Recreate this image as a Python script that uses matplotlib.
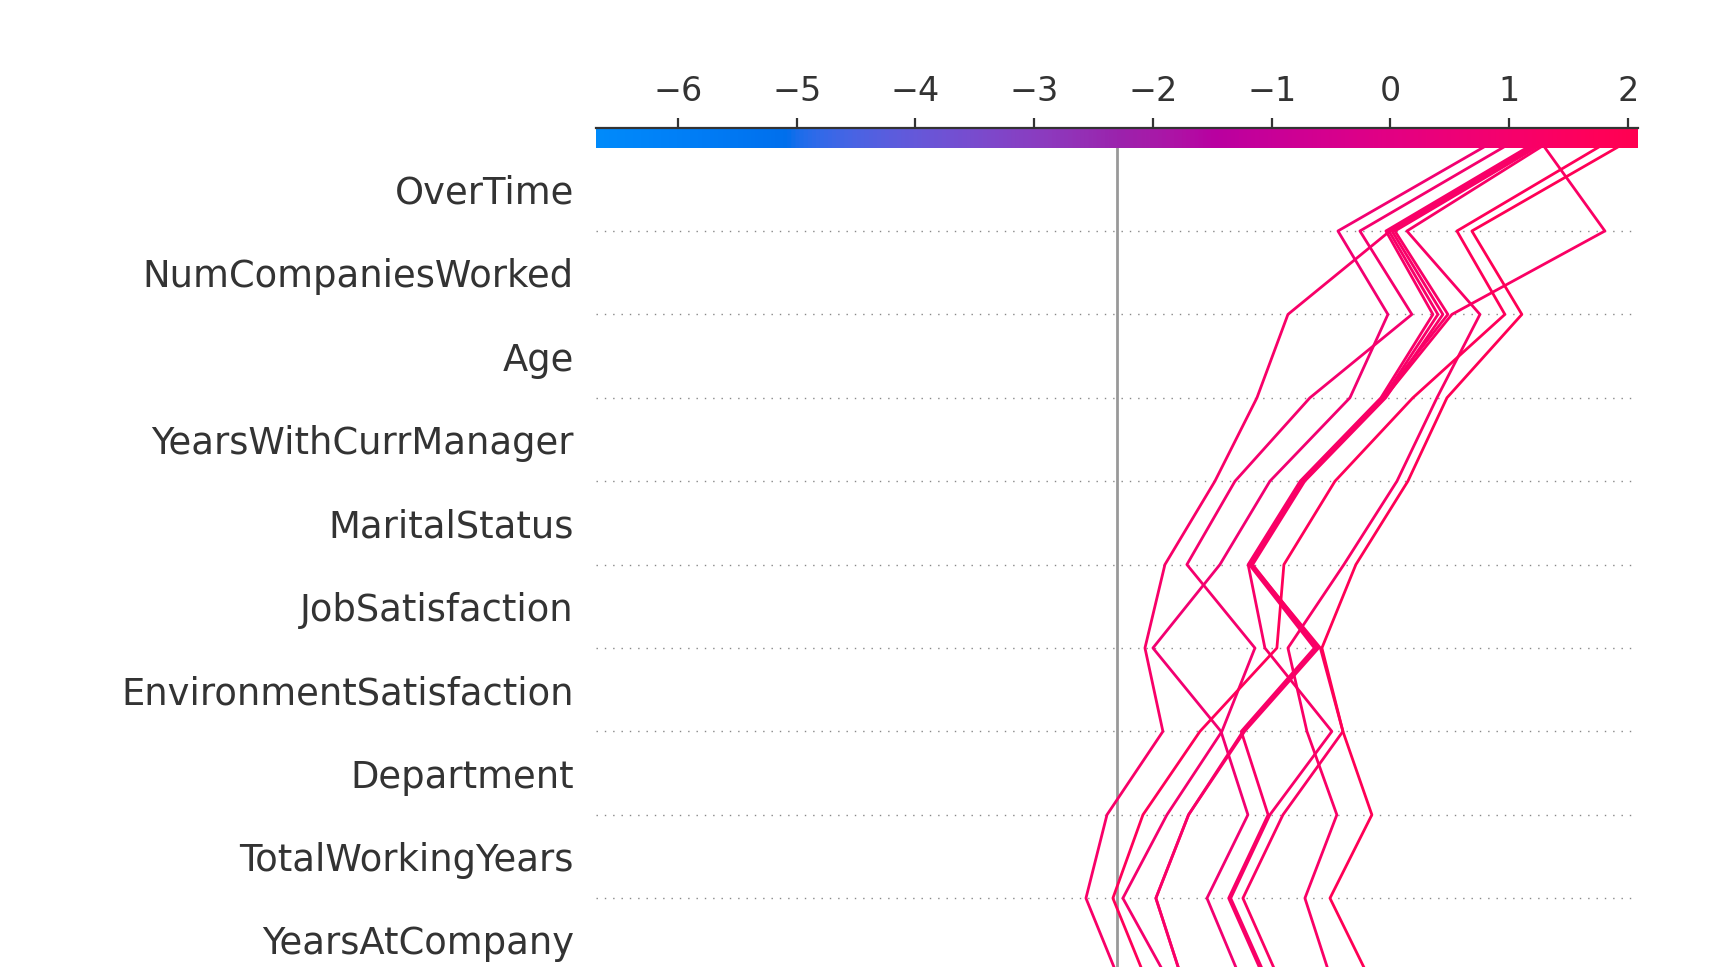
import numpy as np
import matplotlib
matplotlib.use("Agg")
import matplotlib.pyplot as plt
from matplotlib.colors import LinearSegmentedColormap, Normalize

# ---------------- data ----------------
feature_names = ["OverTime", "NumCompaniesWorked", "Age", "YearsWithCurrManager",
                 "MaritalStatus", "JobSatisfaction", "EnvironmentSatisfaction",
                 "Department", "TotalWorkingYears", "YearsAtCompany"]
base_value = -2.30
xlim = (-6.69, 2.085)
x_ticks = [-6, -5, -4, -3, -2, -1, 0, 1, 2]

# cumulative model output at each row boundary, from the top (final output) downwards
obs_a = [1.175, -0.004, -0.863, -1.124, -1.478, -1.899, -2.067, -1.916, -2.387, -2.564, -2.278]
obs_b = [0.779, -0.442, -0.021, -0.341, -1.015, -1.436, -2.000, -1.427, -1.200, -1.545, -1.251]
obs_c = [0.947, -0.257, 0.181, -0.678, -1.309, -1.714, -1.141, -1.419, -1.882, -2.253, -1.865]
obs_d1 = [1.150, -0.038, 0.358, -0.080, -0.760, -1.198, -1.057, -0.493, -1.015, -1.345, -1.032]
obs_d2 = [1.180, -0.013, 0.400, -0.060, -0.740, -1.178, -0.625, -1.242, -1.700, -1.975, -1.748]
obs_d3 = [1.205, 0.013, 0.442, -0.040, -0.722, -1.160, -0.605, -1.228, -1.700, -1.975, -1.748]
obs_d4 = [1.225, 0.038, 0.484, -0.070, -0.750, -1.188, -0.640, -1.256, -1.030, -1.362, -1.050]
obs_e = [1.301, 1.806, 0.518, -0.050, -0.731, -1.169, -0.590, -0.400, -0.905, -1.242, -0.930]
obs_f = [1.259, 0.139, 0.754, 0.392, 0.055, -0.392, -0.863, -0.703, -0.451, -0.720, -0.493]
obs_g = [1.747, 0.560, 0.964, 0.189, -0.467, -0.897, -0.956, -1.604, -2.084, -2.337, -2.051]
obs_h = [1.907, 0.686, 1.107, 0.476, 0.147, -0.291, -0.577, -0.400, -0.156, -0.509, -0.164]
observations = [obs_a, obs_b, obs_c, obs_d1, obs_d2, obs_d3, obs_d4, obs_e, obs_f, obs_g, obs_h]

# ---------------- shap red_blue colormap ----------------
def lch2rgb(L, C, h):
    a = C * np.cos(h)
    b = C * np.sin(h)
    fy = (L + 16.0) / 116.0
    fx = fy + a / 500.0
    fz = fy - b / 200.0
    def finv(t):
        return np.where(t > 6 / 29, t ** 3, 3 * (6 / 29) ** 2 * (t - 4 / 29))
    X = 0.95047 * finv(fx)
    Y = 1.0 * finv(fy)
    Z = 1.08883 * max(finv(fz), 0)
    M = np.linalg.inv(np.array([[0.412453, 0.357580, 0.180423],
                                [0.212671, 0.715160, 0.072169],
                                [0.019334, 0.119193, 0.950227]]))
    lin = M @ np.array([X, Y, Z])
    lin = np.clip(lin, 0, None)
    rgb = np.where(lin > 0.0031308, 1.055 * lin ** (1 / 2.4) - 0.055, 12.92 * lin)
    return np.clip(rgb, 0, 1)

blue_lch = [54., 70., 4.6588]
l_mid = 40.
red_lch = [54., 90., 0.35470565 + 2 * np.pi]
nsteps = 100
l_vals = list(np.linspace(blue_lch[0], l_mid, nsteps // 2)) + list(np.linspace(l_mid, red_lch[0], nsteps // 2))
c_vals = np.linspace(blue_lch[1], red_lch[1], nsteps)
h_vals = np.linspace(blue_lch[2], red_lch[2], nsteps)
cols = [lch2rgb(l, c, h) for l, c, h in zip(l_vals, c_vals, h_vals)]
red_blue = LinearSegmentedColormap.from_list("red_blue", cols)

# ---------------- figure ----------------
W, H, DPI = 1724, 967, 200
fig = plt.figure(figsize=(W / DPI, H / DPI), dpi=DPI)

n = len(feature_names)
left = 596 / W
width = (1638 - 596) / W
top_px = 147.6
unit_px = 83.4
bottom_px = top_px + n * unit_px
ax = fig.add_axes([left, 1 - bottom_px / H, width, (bottom_px - top_px) / H])

y_pos = np.arange(n, -1, -1)
norm = Normalize(vmin=xlim[0], vmax=xlim[1])
for obs in observations:
    ax.plot(obs, y_pos, color=red_blue(norm(obs[0])), linewidth=1, zorder=3)

for i in range(n):
    ax.axhline(i, color="#888888", lw=0.5, dashes=(1, 5), zorder=-1)
ax.axvline(base_value, color="#999999", linestyle="-", linewidth=1, zorder=1)

ax.set_xlim(xlim)
ax.set_ylim(0, n)
ax.set_yticks(np.arange(n)[::-1] + 0.5)
ax.set_yticklabels(feature_names, fontsize=13.3, color="#333333")
ax.tick_params(axis="y", length=0, pad=8)
ax.set_xticks([])
for s in ax.spines.values():
    s.set_visible(False)

# colorbar on top
cb_top = 127.5
cb_h = top_px - cb_top
cax = fig.add_axes([left, 1 - top_px / H, width, cb_h / H])
grad = np.linspace(0, 1, 1024)[None, :]
cax.imshow(grad, aspect="auto", cmap=red_blue, extent=[xlim[0], xlim[1], 0, 1])
cax.set_xlim(xlim)
cax.set_ylim(0, 1)
cax.set_yticks([])
cax.xaxis.set_ticks_position("top")
cax.set_xticks(x_ticks)
cax.tick_params(axis="x", labelsize=12, labelcolor="#333333", color="#333333", length=3.5)
for k in ["left", "right", "bottom"]:
    cax.spines[k].set_visible(False)
cax.spines["top"].set_color("#333333")

fig.savefig("out.png", dpi=DPI)
